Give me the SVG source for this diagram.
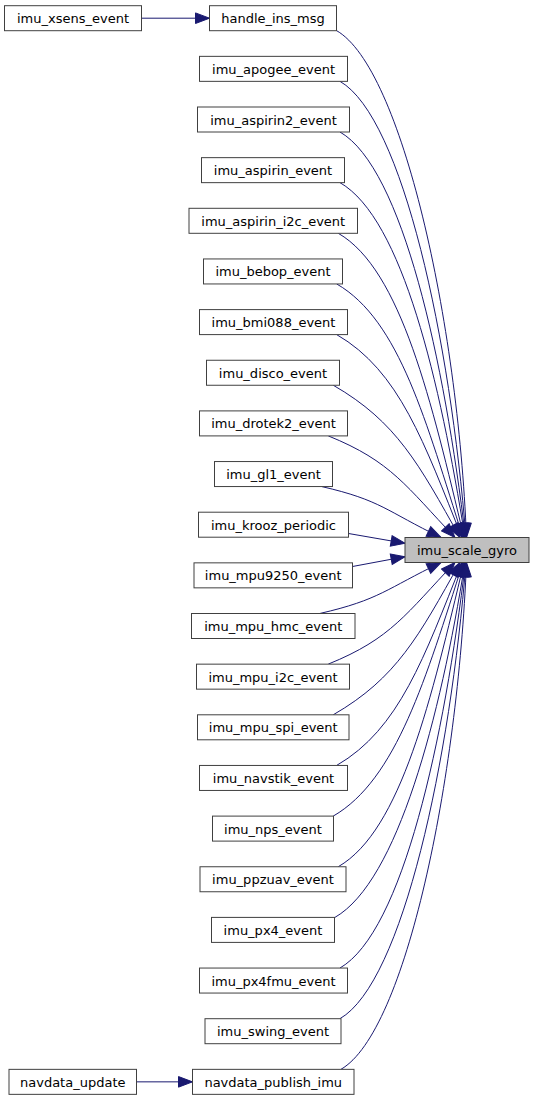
<svg xmlns="http://www.w3.org/2000/svg" width="535" height="1101" viewBox="0 0 535 1101">
<style>
.n rect{fill:#ffffff;stroke:#404040;stroke-width:1}
.n.hl rect{fill:#bfbfbf}
.n text{font-family:"DejaVu Sans",sans-serif;font-size:13px;fill:#000000;text-anchor:middle}
#edges path{fill:none;stroke:#191970;stroke-width:1;marker-end:url(#ah)}
</style>
<defs>
<marker id="ah" markerUnits="userSpaceOnUse" markerWidth="16" markerHeight="12.6" viewBox="-1 -1 16 12.6" refX="14" refY="5.3" orient="auto">
<path d="M0,0L14,5.3L0,10.6z" fill="#191970" stroke="#191970" stroke-width="1"/>
</marker>
</defs>
<rect width="535" height="1101" fill="#ffffff"/>
<g id="edges">
<path d="M141.5,18.2L209.5,18.2"/>
<path d="M136.5,1081.85L192.5,1081.85"/>
<path d="M336.7,30.7C401.6,68.2 457.8,320.8 466.5,537.5"/>
<path d="M340,81.35C403,117.7 450.2,341.1 466,537.5"/>
<path d="M340,132C402.8,168.2 444.4,361.4 465.5,537.5"/>
<path d="M340,182.65C402.5,218.7 440.1,381.8 465,537.5"/>
<path d="M338.3,233.3C401.2,269.6 431.6,402.2 464,537.5"/>
<path d="M336.7,283.95C399.9,320.4 426.2,422.8 463,537.5"/>
<path d="M336.7,334.6C399.4,370.8 424.3,443.3 462,537.5"/>
<path d="M333.3,385.25C396.7,421.8 419,464.3 460,537.5"/>
<path d="M328.3,435.9C391.7,461.5 406.4,486.7 455,537.5"/>
<path d="M321.7,486.55C381.4,500.3 386,511 441,537.5"/>
<path d="M348.5,533.5L405,543.3"/>
<path d="M352.5,566.5L405,556.7"/>
<path d="M320,613.45C379.7,599.7 386,589 441,562.5"/>
<path d="M328.3,664.1C391.7,638.5 406.4,613.3 455,562.5"/>
<path d="M333.3,714.75C396.7,678.2 419,635.7 460,562.5"/>
<path d="M336.7,765.4C399.4,729.2 424.3,656.7 462,562.5"/>
<path d="M333.3,816.05C396.5,779.6 426.2,677.2 463,562.5"/>
<path d="M338.3,866.7C401.2,830.4 431.6,697.8 464,562.5"/>
<path d="M335,917.35C397.5,881.3 440.1,718.2 465,562.5"/>
<path d="M340,968C402.8,931.8 444.4,738.6 465.5,562.5"/>
<path d="M340,1018.65C403,982.3 450.2,758.9 466,562.5"/>
<path d="M341,1069.3C405.9,1031.8 457.8,779.2 466.5,562.5"/>
</g>
<g id="imu_xsens_event" class="n"><rect x="4.5" y="5.7" width="137" height="25"/><text x="73" y="23.2">imu_xsens_event</text></g>
<g id="handle_ins_msg" class="n"><rect x="209.5" y="5.7" width="127" height="25"/><text x="273" y="23.2">handle_ins_msg</text></g>
<g id="imu_apogee_event" class="n"><rect x="199.5" y="56.35" width="148" height="25"/><text x="273.5" y="73.85">imu_apogee_event</text></g>
<g id="imu_aspirin2_event" class="n"><rect x="197.5" y="107" width="152" height="25"/><text x="273.5" y="124.5">imu_aspirin2_event</text></g>
<g id="imu_aspirin_event" class="n"><rect x="201.5" y="157.65" width="143" height="25"/><text x="273" y="175.15">imu_aspirin_event</text></g>
<g id="imu_aspirin_i2c_event" class="n"><rect x="189" y="208.3" width="168.5" height="25"/><text x="273.25" y="225.8">imu_aspirin_i2c_event</text></g>
<g id="imu_bebop_event" class="n"><rect x="203.5" y="258.95" width="139" height="25"/><text x="273" y="276.45">imu_bebop_event</text></g>
<g id="imu_bmi088_event" class="n"><rect x="199.5" y="309.6" width="148" height="25"/><text x="273.5" y="327.1">imu_bmi088_event</text></g>
<g id="imu_disco_event" class="n"><rect x="206.5" y="360.25" width="133" height="25"/><text x="273" y="377.75">imu_disco_event</text></g>
<g id="imu_drotek2_event" class="n"><rect x="199.5" y="410.9" width="148" height="25"/><text x="273.5" y="428.4">imu_drotek2_event</text></g>
<g id="imu_gl1_event" class="n"><rect x="214.5" y="461.55" width="118" height="25"/><text x="273.5" y="479.05">imu_gl1_event</text></g>
<g id="imu_krooz_periodic" class="n"><rect x="198.5" y="512.2" width="150" height="25"/><text x="273.5" y="529.7">imu_krooz_periodic</text></g>
<g id="imu_scale_gyro" class="n hl"><rect x="405" y="537.5" width="124" height="25"/><text x="467" y="555">imu_scale_gyro</text></g>
<g id="imu_mpu9250_event" class="n"><rect x="194" y="562.85" width="158.5" height="25"/><text x="273.25" y="580.35">imu_mpu9250_event</text></g>
<g id="imu_mpu_hmc_event" class="n"><rect x="191.5" y="613.5" width="163.5" height="25"/><text x="273.25" y="631">imu_mpu_hmc_event</text></g>
<g id="imu_mpu_i2c_event" class="n"><rect x="196.5" y="664.15" width="153" height="25"/><text x="273" y="681.65">imu_mpu_i2c_event</text></g>
<g id="imu_mpu_spi_event" class="n"><rect x="197.5" y="714.8" width="151.5" height="25"/><text x="273.25" y="732.3">imu_mpu_spi_event</text></g>
<g id="imu_navstik_event" class="n"><rect x="199.5" y="765.45" width="148" height="25"/><text x="273.5" y="782.95">imu_navstik_event</text></g>
<g id="imu_nps_event" class="n"><rect x="212.5" y="816.1" width="121" height="25"/><text x="273" y="833.6">imu_nps_event</text></g>
<g id="imu_ppzuav_event" class="n"><rect x="200" y="866.75" width="146" height="25"/><text x="273" y="884.25">imu_ppzuav_event</text></g>
<g id="imu_px4_event" class="n"><rect x="211.5" y="917.4" width="123" height="25"/><text x="273" y="934.9">imu_px4_event</text></g>
<g id="imu_px4fmu_event" class="n"><rect x="199.5" y="968.05" width="148" height="25"/><text x="273.5" y="985.55">imu_px4fmu_event</text></g>
<g id="imu_swing_event" class="n"><rect x="205" y="1018.7" width="136" height="25"/><text x="273" y="1036.2">imu_swing_event</text></g>
<g id="navdata_publish_imu" class="n"><rect x="192.5" y="1069.35" width="161.5" height="25"/><text x="273.25" y="1086.85">navdata_publish_imu</text></g>
<g id="navdata_update" class="n"><rect x="9" y="1069.35" width="127.5" height="25"/><text x="72.75" y="1086.85">navdata_update</text></g>
</svg>
